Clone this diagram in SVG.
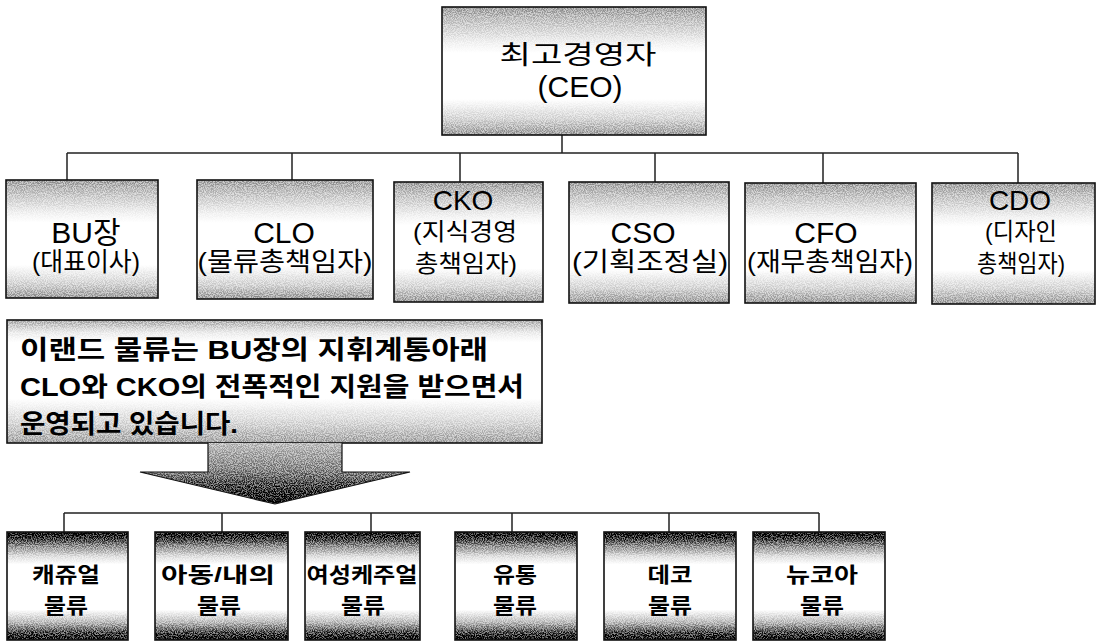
<svg xmlns="http://www.w3.org/2000/svg" width="1100" height="642" viewBox="0 0 1100 642">
<style>
text{font-family:"Liberation Sans","Noto Sans CJK KR",sans-serif;fill:#000;text-anchor:middle}
.fill{filter:url(#grain)}
.edge{fill:none;stroke:#111;stroke-width:1.6}
.top{fill:url(#gTop)}
.bot{fill:url(#gBot)}
.msgbg{fill:url(#gMsg)}
.ln{stroke:#222;stroke-width:1.5;fill:none}
.lat{font-size:30px}
.lat2{font-size:28px}
.kr{font-size:26px}
.kr2{font-size:24px}
.tb{font-size:21px;font-weight:bold}
.msg{font-size:26px;text-anchor:start;font-weight:bold}
</style>
<defs>
<filter id="grain" x="-0.02" y="-0.02" width="1.04" height="1.04" color-interpolation-filters="sRGB">
<feTurbulence type="fractalNoise" baseFrequency="0.9" numOctaves="2" seed="7" result="t"/>
<feColorMatrix in="t" type="matrix" values="1 0 0 0 0  1 0 0 0 0  1 0 0 0 0  0 0 0 0 1" result="g0"/>
<feComponentTransfer in="g0" result="g"><feFuncR type="linear" slope="3.5" intercept="-1.25"/><feFuncG type="linear" slope="3.5" intercept="-1.25"/><feFuncB type="linear" slope="3.5" intercept="-1.25"/></feComponentTransfer>
<feComposite in="SourceGraphic" in2="g" operator="arithmetic" k1="-0.8" k2="1.4" k3="0.8" k4="-0.4" result="c"/>
<feComposite in="c" in2="SourceAlpha" operator="in"/>
</filter>
<linearGradient id="gTop" x1="0" y1="0" x2="0" y2="1">
<stop offset="0" stop-color="#a4a4a4"/>
<stop offset="0.1" stop-color="#c4c4c4"/>
<stop offset="0.28" stop-color="#f2f2f2"/>
<stop offset="0.36" stop-color="#ffffff"/>
<stop offset="0.72" stop-color="#ffffff"/>
<stop offset="0.88" stop-color="#d6d6d6"/>
<stop offset="1" stop-color="#a0a0a0"/>
</linearGradient>
<linearGradient id="gMsg" x1="0" y1="0" x2="0" y2="1">
<stop offset="0" stop-color="#b0b0b0"/>
<stop offset="0.1" stop-color="#ececec"/>
<stop offset="0.18" stop-color="#ffffff"/>
<stop offset="0.64" stop-color="#ffffff"/>
<stop offset="0.84" stop-color="#d8d8d8"/>
<stop offset="1" stop-color="#a8a8a8"/>
</linearGradient>
<linearGradient id="gBot" x1="0" y1="0" x2="0" y2="1">
<stop offset="0" stop-color="#000"/>
<stop offset="0.04" stop-color="#222"/>
<stop offset="0.12" stop-color="#888"/>
<stop offset="0.22" stop-color="#ddd"/>
<stop offset="0.3" stop-color="#fff"/>
<stop offset="0.72" stop-color="#fff"/>
<stop offset="0.84" stop-color="#bbb"/>
<stop offset="0.94" stop-color="#444"/>
<stop offset="1" stop-color="#000"/>
</linearGradient>
<linearGradient id="gArrow" gradientUnits="userSpaceOnUse" x1="0" y1="443" x2="0" y2="504">
<stop offset="0" stop-color="#c0c0c0"/>
<stop offset="0.45" stop-color="#8a8a8a"/>
<stop offset="0.8" stop-color="#333"/>
<stop offset="1" stop-color="#000"/>
</linearGradient>
</defs>
<g id="connectors">
<path class="ln" d="M562 135V153M67 153H1018M67 153V180M292 153V180M460 153V182M655 153V182M823 153V183M1018 153V183"/>
<path class="ln" d="M64 513H819M64 513V532M222 513V532M371 513V532M512 513V532M669 513V532M819 513V532"/>
</g>
<g id="ceo"><rect class="fill top" x="442" y="7" width="264" height="128"/><rect class="edge" x="442" y="7" width="264" height="128"/><text class="kr" x="578" y="64" font-size="28" textLength="157" lengthAdjust="spacingAndGlyphs">최고경영자</text><text class="lat" x="580" y="97">(CEO)</text></g>
<g id="bu"><rect class="fill top" x="6" y="180" width="152" height="118"/><rect class="edge" x="6" y="180" width="152" height="118"/><text class="lat" x="86" y="243">BU장</text><text class="kr" x="86" y="271" textLength="108" lengthAdjust="spacingAndGlyphs">(대표이사)</text></g>
<g id="clo"><rect class="fill top" x="197" y="180" width="176" height="119"/><rect class="edge" x="197" y="180" width="176" height="119"/><text class="lat" x="284" y="243">CLO</text><text class="kr" x="285" y="271" textLength="175" lengthAdjust="spacingAndGlyphs">(물류총책임자)</text></g>
<g id="cko"><rect class="fill top" x="394" y="182" width="149" height="120"/><rect class="edge" x="394" y="182" width="149" height="120"/><text class="lat2" x="463" y="210">CKO</text><text class="kr2" x="465" y="240" textLength="104" lengthAdjust="spacingAndGlyphs">(지식경영</text><text class="kr2" x="466" y="272" textLength="102" lengthAdjust="spacingAndGlyphs">총책임자)</text></g>
<g id="cso"><rect class="fill top" x="569" y="182" width="160" height="121"/><rect class="edge" x="569" y="182" width="160" height="121"/><text class="lat" x="643" y="243">CSO</text><text class="kr" x="650" y="271" textLength="156" lengthAdjust="spacingAndGlyphs">(기획조정실)</text></g>
<g id="cfo"><rect class="fill top" x="745" y="183" width="171" height="120"/><rect class="edge" x="745" y="183" width="171" height="120"/><text class="lat" x="826" y="243">CFO</text><text class="kr" x="830" y="271" textLength="166" lengthAdjust="spacingAndGlyphs">(재무총책임자)</text></g>
<g id="cdo"><rect class="fill top" x="932" y="183" width="163" height="121"/><rect class="edge" x="932" y="183" width="163" height="121"/><text class="lat2" x="1020" y="210">CDO</text><text class="kr2" x="1021" y="240" textLength="72" lengthAdjust="spacingAndGlyphs">(디자인</text><text class="kr2" x="1021" y="272" textLength="88" lengthAdjust="spacingAndGlyphs">총책임자)</text></g>
<g id="message"><rect class="fill msgbg" x="7" y="320" width="535" height="123"/><rect class="edge" x="7" y="320" width="535" height="123"/><text class="msg" x="20" y="359" textLength="468" lengthAdjust="spacingAndGlyphs">이랜드 물류는  BU장의 지휘계통아래</text><text class="msg" x="20" y="396" textLength="504" lengthAdjust="spacingAndGlyphs">CLO와 CKO의 전폭적인 지원을 받으면서</text><text class="msg" x="20" y="433" textLength="218" lengthAdjust="spacingAndGlyphs">운영되고 있습니다.</text></g>
<g id="arrow"><path class="fill" d="M208 443H342V472H410L275 504L140 472H208Z" fill="url(#gArrow)"/><path d="M208 443V472H140L275 504L410 472H342V443" fill="none" stroke="#111" stroke-width="1.2"/></g>
<g id="casual"><rect class="fill bot" x="7" y="532" width="121" height="108"/><rect class="edge" x="7" y="532" width="121" height="108"/><text class="tb" x="66" y="582" textLength="68" lengthAdjust="spacingAndGlyphs">캐쥬얼</text><text class="tb" x="66" y="613" textLength="44" lengthAdjust="spacingAndGlyphs">물류</text></g>
<g id="kids"><rect class="fill bot" x="155" y="532" width="133" height="108"/><rect class="edge" x="155" y="532" width="133" height="108"/><text class="tb" x="218" y="582" textLength="114" lengthAdjust="spacingAndGlyphs">아동/내의</text><text class="tb" x="219" y="613" textLength="44" lengthAdjust="spacingAndGlyphs">물류</text></g>
<g id="women"><rect class="fill bot" x="305" y="532" width="115" height="108"/><rect class="edge" x="305" y="532" width="115" height="108"/><text class="tb" x="362" y="582" textLength="111" lengthAdjust="spacingAndGlyphs">여성케주얼</text><text class="tb" x="363" y="613" textLength="44" lengthAdjust="spacingAndGlyphs">물류</text></g>
<g id="retail"><rect class="fill bot" x="455" y="532" width="122" height="108"/><rect class="edge" x="455" y="532" width="122" height="108"/><text class="tb" x="515" y="582" textLength="44" lengthAdjust="spacingAndGlyphs">유통</text><text class="tb" x="515" y="613" textLength="44" lengthAdjust="spacingAndGlyphs">물류</text></g>
<g id="deco"><rect class="fill bot" x="604" y="532" width="132" height="108"/><rect class="edge" x="604" y="532" width="132" height="108"/><text class="tb" x="670" y="582" textLength="45" lengthAdjust="spacingAndGlyphs">데코</text><text class="tb" x="670" y="613" textLength="44" lengthAdjust="spacingAndGlyphs">물류</text></g>
<g id="newcore"><rect class="fill bot" x="753" y="532" width="132" height="108"/><rect class="edge" x="753" y="532" width="132" height="108"/><text class="tb" x="822" y="582" textLength="72" lengthAdjust="spacingAndGlyphs">뉴코아</text><text class="tb" x="822" y="613" textLength="44" lengthAdjust="spacingAndGlyphs">물류</text></g>
</svg>
